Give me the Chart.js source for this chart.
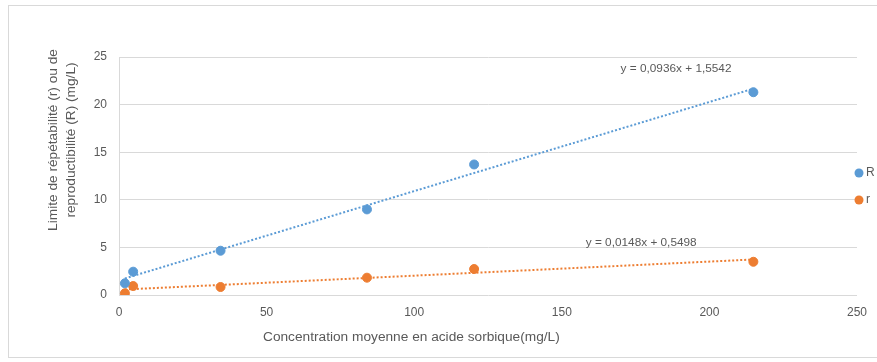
<!DOCTYPE html>
<html>
<head>
<meta charset="utf-8">
<script src="https://cdn.jsdelivr.net/npm/chart.js@4.4.1/dist/chart.umd.min.js"></script>
<style>
  body { margin: 0; background: #fff; }
  #wrap { position: relative; width: 877px; height: 362px; overflow: hidden; }
  #frame { position: absolute; left: 8px; top: 5px; width: 890px; height: 353px; border: 1px solid #d9d9d9; box-sizing: border-box; }
  canvas { position: absolute; left: 0; top: 0; }
</style>
</head>
<body>
<div id="wrap">
  <div id="frame"></div>
  <canvas id="chart" width="877" height="362"></canvas>
</div>
<script>
// values
const concentration = [2.0, 4.8, 34.4, 84.0, 120.3, 214.9]
const reproValues = [1.23, 2.45, 4.65, 8.99, 13.71, 21.30] // R
const repetValues = [0.18, 0.94, 0.84, 1.82, 2.73, 3.49] // r
const trendX = [2.0, 214.9]
const reproTrend = [1.74, 21.67]
const repetTrend = [0.58, 3.73]
const xTicks = [0, 50, 100, 150, 200, 250]
const yTicks = [0, 5, 10, 15, 20, 25]
const seriesNames = ['R', 'r']
const equations = ['y = 0,0936x + 1,5542', 'y = 0,0148x + 0,5498']
const xTitle = 'Concentration moyenne en acide sorbique(mg/L)'
const yTitle = ['Limite de répétabilité (r) ou de', 'reproductibilité (R) (mg/L)']

const blue = '#5b9bd5'
const orange = '#ed7d31'
const textColor = '#595959'
const fontName = '"Liberation Sans", Arial, sans-serif'

const toPoints = (xs, ys) => xs.map((x, i) => ({ x: x, y: ys[i] }))

// axis titles, equations and legend, placed by hand like the excel export
const textLayer = {
  id: 'textLayer',
  afterDraw(chart) {
    const { ctx, chartArea, scales: { x, y } } = chart
    ctx.save()
    ctx.fillStyle = textColor
    ctx.textBaseline = 'middle'

    ctx.font = '11.8px ' + fontName
    ctx.textAlign = 'center'
    ctx.fillText(equations[0], x.getPixelForValue(188.7), y.getPixelForValue(23.8))
    ctx.fillText(equations[1], x.getPixelForValue(176.9), y.getPixelForValue(5.46))

    ctx.font = '13.7px ' + fontName
    ctx.textAlign = 'left'
    ctx.fillText(xTitle, 263, 337)

    ctx.save()
    ctx.translate(0, 140)
    ctx.rotate(-Math.PI / 2)
    ctx.textAlign = 'center'
    ctx.fillText(yTitle[0], 0, 53)
    ctx.fillText(yTitle[1], 0, 71)
    ctx.restore()

    // legend
    const colors = [blue, orange]
    ctx.font = '12px ' + fontName
    seriesNames.forEach((name, i) => {
      const cy = 173 + i * 27
      ctx.fillStyle = colors[i]
      ctx.beginPath()
      ctx.arc(chartArea.right + 2, cy, 4.5, 0, Math.PI * 2)
      ctx.fill()
      ctx.fillStyle = textColor
      ctx.fillText(name, chartArea.right + 9, cy)
    })
    ctx.restore()
  }
}

const ctx = document.getElementById('chart')

new Chart(ctx, {
  type: 'scatter',
  data: {
    datasets: [
      {
        label: seriesNames[0],
        data: toPoints(concentration, reproValues),
        backgroundColor: blue,
        borderColor: blue,
        pointRadius: 4.5,
        order: 0
      },
      {
        label: seriesNames[1],
        data: toPoints(concentration, repetValues),
        backgroundColor: orange,
        borderColor: orange,
        pointRadius: 4.5,
        order: 0
      },
      {
        label: 'Linéaire (R)',
        data: toPoints(trendX, reproTrend),
        showLine: true,
        borderColor: blue,
        borderWidth: 2,
        borderDash: [2, 2],
        pointRadius: 0,
        order: 1
      },
      {
        label: 'Linéaire (r)',
        data: toPoints(trendX, repetTrend),
        showLine: true,
        borderColor: orange,
        borderWidth: 2,
        borderDash: [2, 2],
        pointRadius: 0,
        order: 1
      }
    ]
  },
  options: {
    responsive: false,
    animation: false,
    devicePixelRatio: 1,
    layout: { padding: { top: 57, right: 18, bottom: 0, left: 0 } },
    plugins: {
      legend: { display: false },
      tooltip: { enabled: false }
    },
    scales: {
      x: {
        type: 'linear',
        min: 0,
        max: 250,
        afterBuildTicks: scale => { scale.ticks = xTicks.map(v => ({ value: v })) },
        afterFit: scale => { scale.height = 67 },
        grid: { display: false, drawTicks: false },
        border: { display: false },
        ticks: { color: textColor, font: { family: fontName, size: 12 }, padding: 10 }
      },
      y: {
        min: 0,
        max: 25,
        afterBuildTicks: scale => { scale.ticks = yTicks.map(v => ({ value: v })) },
        afterFit: scale => { scale.width = 119 },
        grid: { color: '#d9d9d9', drawTicks: false },
        border: { display: true, color: '#d9d9d9' },
        ticks: { color: textColor, font: { family: fontName, size: 12 }, padding: 12 }
      }
    }
  },
  plugins: [textLayer]
})
</script>
</body>
</html>
